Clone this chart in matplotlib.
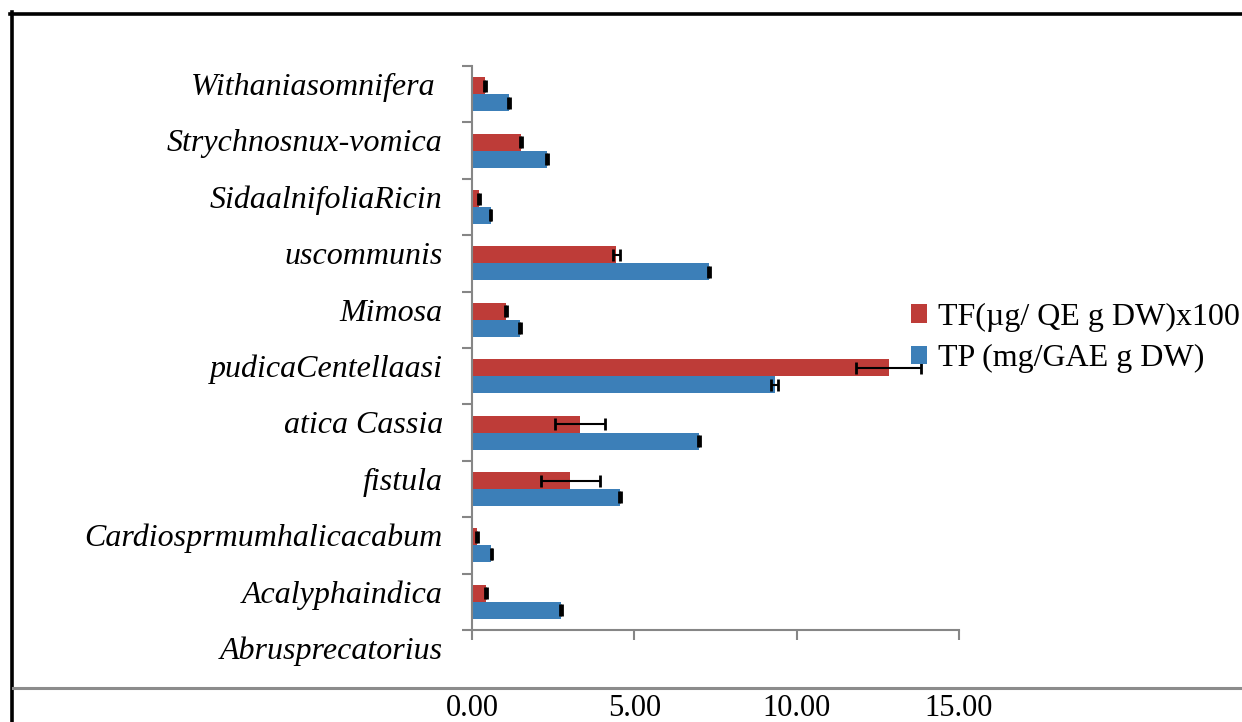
import numpy as np
import matplotlib
matplotlib.use("Agg")
import matplotlib.pyplot as plt
from matplotlib.lines import Line2D
from matplotlib.patches import Patch
from matplotlib.transforms import ScaledTranslation

plt.rcParams['font.family'] = ['Liberation Serif', 'DejaVu Serif']

categories = ["Withaniasomnifera ", "Strychnosnux-vomica", "SidaalnifoliaRicin",
              "uscommunis", "Mimosa", "pudicaCentellaasi", "atica Cassia",
              "fistula", "Cardiosprmumhalicacabum", "Acalyphaindica",
              "Abrusprecatorius"]
tf_values = [0.40, 1.51, 0.21, 4.45, 1.04, 12.83, 3.33, 3.03, 0.16, 0.42]
tf_errors = [0.03, 0.03, 0.03, 0.10, 0.03, 0.99, 0.77, 0.90, 0.03, 0.03]
tp_values = [1.14, 2.30, 0.57, 7.29, 1.48, 9.32, 6.98, 4.55, 0.60, 2.75]
tp_errors = [0.03, 0.03, 0.03, 0.03, 0.03, 0.10, 0.03, 0.03, 0.03, 0.03]
x_ticks = [0, 5, 10, 15]
x_tick_labels = ["0.00", "5.00", "10.00", "15.00"]
legend_labels = ["TF(\u00b5g/ QE g DW)x100", "TP (mg/GAE g DW)"]

RED = '#BE3C38'
BLUE = '#3C7FB8'
GRAY = '#868686'

W, H = 1242, 722
fig = plt.figure(figsize=(W / 100, H / 100), dpi=100)
ax = fig.add_axes([472 / W, (H - 630) / H, 487 / W, 564 / H])

pos = np.arange(len(tf_values)) + 0.5
ekw = dict(ecolor='black', elinewidth=1.5, capsize=4.5, capthick=2.0)
ax.barh(pos - 0.15, tf_values, height=0.3, color=RED, xerr=tf_errors, error_kw=ekw)
ax.barh(pos + 0.15, tp_values, height=0.3, color=BLUE, xerr=tp_errors, error_kw=ekw)

ax.set_xlim(0, 15)
ax.set_ylim(len(tf_values), 0)
for s in ['top', 'right']:
    ax.spines[s].set_visible(False)
for s in ['left', 'bottom']:
    ax.spines[s].set_color(GRAY)
    ax.spines[s].set_linewidth(1.5)

ax.set_yticks(np.arange(len(categories)))
ax.set_yticklabels(categories, fontstyle='italic', fontsize=23)
ax.set_xticks(x_ticks)
ax.set_xticklabels(x_tick_labels, fontsize=22)
ax.tick_params(axis='y', length=7, width=1.5, color=GRAY, pad=14)
ax.tick_params(axis='x', length=7, width=1.5, color=GRAY, pad=39)

offset = ScaledTranslation(0, -0.18, fig.dpi_scale_trans)
for lab in ax.get_yticklabels():
    lab.set_transform(lab.get_transform() + offset)

handles = [Patch(facecolor=RED), Patch(facecolor=BLUE)]
fig.legend(handles, legend_labels, loc='center left',
           bbox_to_anchor=(911 / W, 1 - 338 / H), frameon=False, fontsize=23,
           handlelength=0.5, handleheight=0.5, handletextpad=0.35,
           labelspacing=0.38, borderpad=0, borderaxespad=0)

fig.add_artist(Line2D([10 / W, 1], [1 - 13.5 / H] * 2, color='black', lw=2.6,
                      transform=fig.transFigure))
fig.add_artist(Line2D([11.5 / W] * 2, [1 - 12 / H, 0], color='black', lw=2.6,
                      transform=fig.transFigure))
fig.add_artist(Line2D([13 / W, 1], [1 - 688 / H] * 2, color='#8c8c8c', lw=2.2,
                      transform=fig.transFigure))

fig.savefig('out.png', dpi=100, facecolor='white')
